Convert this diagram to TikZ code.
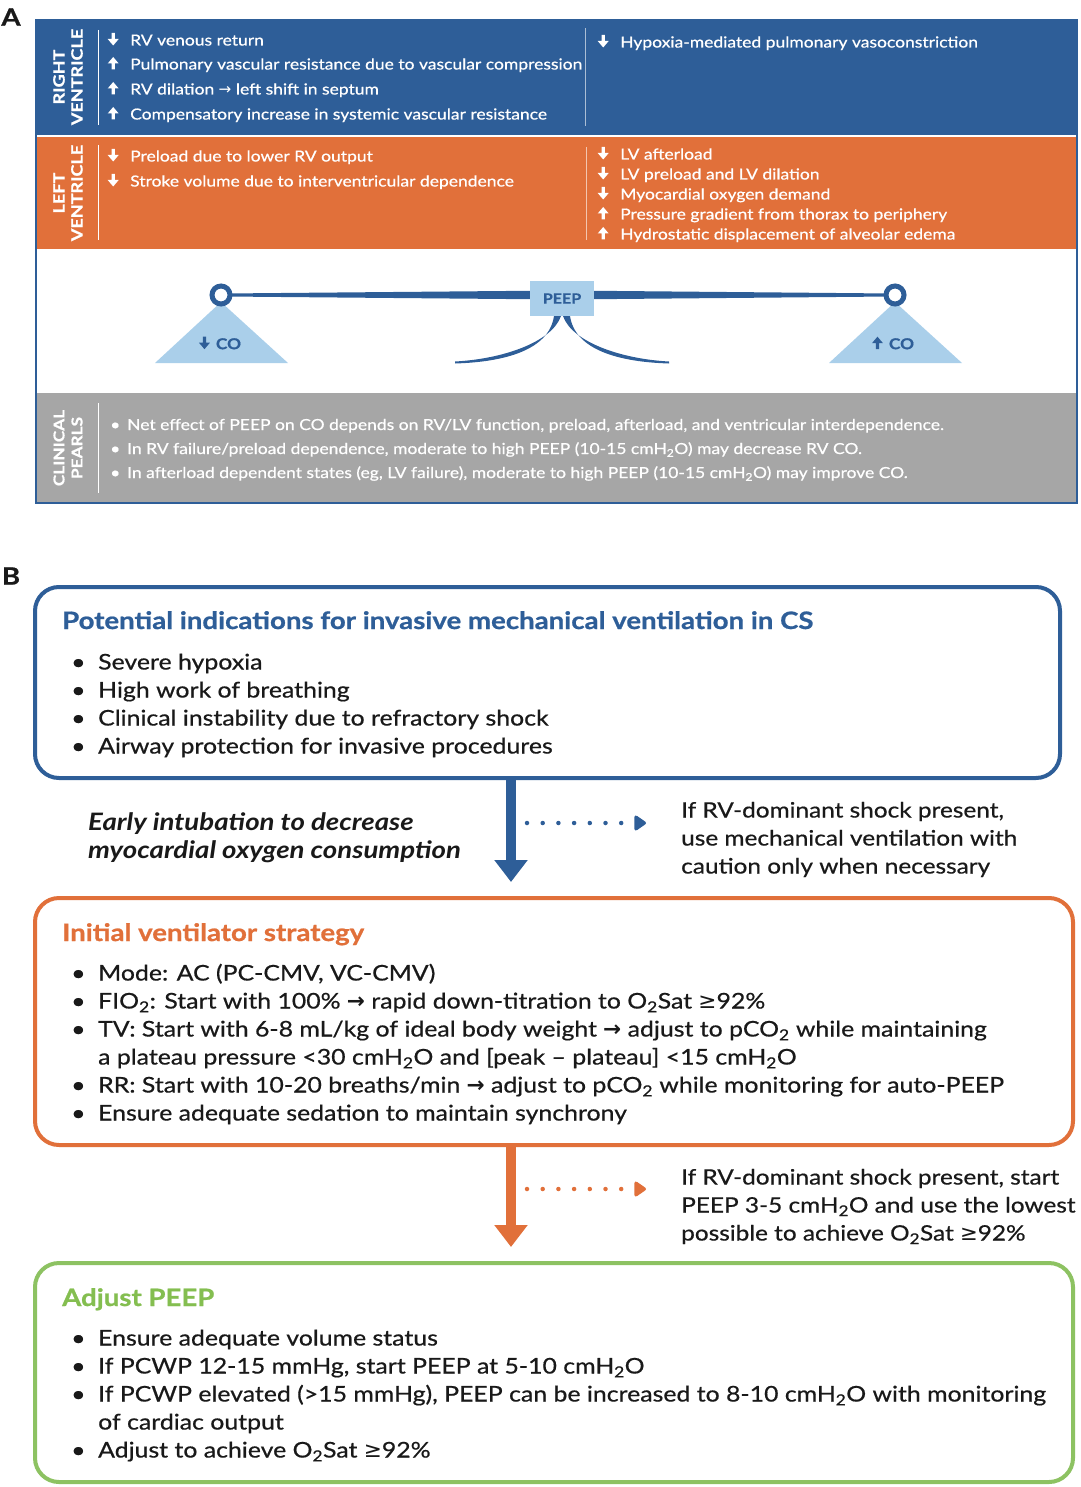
\documentclass[tikz,border=0pt]{standalone}
\usepackage{fontspec}
\setmainfont{Lato}[FakeStretch=1.15, UprightFeatures={FakeBold=0.6}, BoldFeatures={FakeBold=0.8}]
\newfontfamily\symf{DejaVu Sans}
\usetikzlibrary{arrows.meta}
\definecolor{dblue}{RGB}{46,94,152}
\definecolor{orng}{RGB}{225,112,58}
\definecolor{lblue}{RGB}{170,207,234}
\definecolor{gry}{RGB}{166,166,166}
\definecolor{grn}{RGB}{141,194,98}
\definecolor{grnt}{RGB}{132,190,80}
\definecolor{txt}{RGB}{25,25,25}
\newcommand\dnA{\tikz[x=1pt,y=1pt,baseline=0pt]{\fill (-1.7,12.5) rectangle (1.7,6.5) (-5.5,6.5) -- (5.5,6.5) -- (0,0) -- cycle;}}
\newcommand\upA{\tikz[x=1pt,y=1pt,baseline=0pt]{\fill (-1.7,0) rectangle (1.7,6) (-5.5,6) -- (5.5,6) -- (0,12.5) -- cycle;}}
\newcommand\rarr{{\symf\bfseries →}}
\newcommand\geqs{{\symf ≥}}
\newcommand\sbt[1]{\textsubscript{#1}}
\begin{document}
\begin{tikzpicture}[x=1pt,y=-1pt,
  tA/.style={anchor=west, text=white, font=\fontsize{15.2}{18}\selectfont, inner sep=0pt, text height=12pt, text depth=4pt, yshift=-2.5pt},
  tG/.style={anchor=west, text=white, font=\fontsize{15.2}{18}\selectfont, inner sep=0pt, text height=12pt, text depth=4pt, yshift=-1pt},
  side/.style={rotate=90, text=white, align=center, font=\fontsize{15.7}{18}\selectfont\bfseries, inner sep=0pt},
  sep/.style={white, line width=1pt},
  bl/.style={anchor=west, text=txt, font=\fontsize{21.6}{26}\selectfont, inner sep=0pt, text height=16pt, text depth=5pt, yshift=-3pt},
  ttl/.style={anchor=west, font=\fontsize{24}{28}\selectfont\bfseries, inner sep=0pt, text height=17pt, text depth=5pt, yshift=-2pt},
  rt/.style={anchor=west, text=txt, font=\fontsize{21.2}{26}\selectfont, inner sep=0pt, text height=16pt, text depth=5pt, yshift=-3pt},
  bbox/.style={rounded corners=24pt, line width=4pt, fill=white, inner sep=0pt},
  bigarrow/.style={line width=10pt, -{Triangle[width=32pt,length=22pt]}},
  dotarrow/.style={line width=4.5pt, line cap=round, dash pattern=on 0pt off 15.7pt, -{Triangle[width=17pt,length=13pt,round=false]}},
]
\useasboundingbox (0,0) rectangle (1080,1487);
% ---------------- Panel A ----------------
\node[anchor=center, font=\fontsize{24}{28}\selectfont\bfseries, text=txt, inner sep=0pt] (labA) at (11,17) {A};
\fill[dblue] (36,20) rectangle (1077,135);
\fill[orng] (36,137) rectangle (1077,249);
\fill[gry] (36,393) rectangle (1077,503);
\draw[dblue, line width=2pt] (36,20) rectangle (1077,503);

% Right ventricle
\node[side] (rv) at (68,77) {RIGHT\\VENTRICLE};
\draw[sep] (98,30) -- (98,125);
\node[tA] (rv1) at (106,39) {\makebox[24pt][l]{\hspace{1.5pt}\dnA}RV venous return};
\node[tA] (rv2) at (106,63) {\makebox[24pt][l]{\hspace{1.5pt}\upA}Pulmonary vascular resistance due to vascular compression};
\node[tA] (rv3) at (106,88) {\makebox[24pt][l]{\hspace{1.5pt}\upA}RV dilation {\symf →} left shift in septum};
\node[tA] (rv4) at (106,113) {\makebox[24pt][l]{\hspace{1.5pt}\upA}Compensatory increase in systemic vascular resistance};
\draw[white, opacity=.6, line width=1pt] (585,28) -- (585,126);
\node[tA] (rv5) at (596,41) {\makebox[24pt][l]{\hspace{1.5pt}\dnA}Hypoxia-mediated pulmonary vasoconstriction};

% Left ventricle
\node[side] (lv) at (68,193) {LEFT\\VENTRICLE};
\draw[sep] (98,145) -- (98,240);
\node[tA] (lv1) at (106,155) {\makebox[24pt][l]{\hspace{1.5pt}\dnA}Preload due to lower RV output};
\node[tA] (lv2) at (106,180) {\makebox[24pt][l]{\hspace{1.5pt}\dnA}Stroke volume due to interventricular dependence};
\draw[white, opacity=.6, line width=1pt] (586,147) -- (586,240);
\node[tA] (lv3) at (596,153) {\makebox[24pt][l]{\hspace{1.5pt}\dnA}LV afterload};
\node[tA] (lv4) at (596,173) {\makebox[24pt][l]{\hspace{1.5pt}\dnA}LV preload and LV dilation};
\node[tA] (lv5) at (596,193) {\makebox[24pt][l]{\hspace{1.5pt}\dnA}Myocardial oxygen demand};
\node[tA] (lv6) at (596,213) {\makebox[24pt][l]{\hspace{1.5pt}\upA}Pressure gradient from thorax to periphery};
\node[tA] (lv7) at (596,233) {\makebox[24pt][l]{\hspace{1.5pt}\upA}Hydrostatic displacement of alveolar edema};

% Balance
\fill[lblue] (221,302) -- (288,363) -- (155,363) -- cycle;
\fill[lblue] (895,302) -- (962,363) -- (829,363) -- cycle;
\fill[dblue] (225,293.5) -- (562,290.5) -- (891,293.5) -- (891,296.5) -- (562,299.5) -- (225,296.5) -- cycle;
\fill[dblue] (554,316) .. controls (549,350) and (505,362) .. (455,363.5) -- (455,361.5) .. controls (503,359) and (552,342) .. (561,316) -- cycle;
\fill[dblue] (570,316) .. controls (575,350) and (619,362) .. (669,363.5) -- (669,361.5) .. controls (621,359) and (572,342) .. (563,316) -- cycle;
\node[fill=lblue, minimum width=64pt, minimum height=35pt, inner sep=0pt, text=dblue, font=\fontsize{14}{16}\selectfont\bfseries] (peep) at (562,298.5) {PEEP};
\draw[dblue, line width=5pt, fill=white] (221,295) circle (9);
\draw[dblue, line width=5pt, fill=white] (895,295) circle (9);
\node[text=dblue, font=\fontsize{15}{18}\selectfont\bfseries, inner sep=0pt] (coL) at (220,343) {\dnA\hspace{6pt}CO};
\node[text=dblue, font=\fontsize{15}{18}\selectfont\bfseries, inner sep=0pt] (coR) at (893,343) {\upA\hspace{6pt}CO};

% Clinical pearls
\node[side, font=\fontsize{15}{18}\selectfont\bfseries] (cp) at (68,448) {CLINICAL\\PEARLS};
\draw[sep] (98,403) -- (98,493);
\node[tG] (cp1) at (110,425) {\makebox[17pt][l]{•}Net effect of PEEP on CO depends on RV/LV function, preload, afterload, and ventricular interdependence.};
\node[tG] (cp2) at (110,449) {\makebox[17pt][l]{•}In RV failure/preload dependence, moderate to high PEEP (10-15 cmH\sbt{2}O) may decrease RV CO.};
\node[tG] (cp3) at (110,473) {\makebox[17pt][l]{•}In afterload dependent states (eg, LV failure), moderate to high PEEP (10-15 cmH\sbt{2}O) may improve CO.};

% ---------------- Panel B ----------------
\node[anchor=center, font=\fontsize{24}{28}\selectfont\bfseries, text=txt, inner sep=0pt] (labB) at (11,576) {B};

\node[bbox, draw=dblue, minimum width=1025pt, minimum height=191pt] (b1) at (547.5,682.5) {};
\node[ttl, text=dblue] (t1) at (62,621) {Potential indications for invasive mechanical ventilation in CS};
\node[bl] (b1a) at (71,661) {\makebox[27pt][l]{•}Severe hypoxia};
\node[bl] (b1b) at (71,689) {\makebox[27pt][l]{•}High work of breathing};
\node[bl] (b1c) at (71,717) {\makebox[27pt][l]{•}Clinical instability due to refractory shock};
\node[bl] (b1d) at (71,745) {\makebox[27pt][l]{•}Airway protection for invasive procedures};

\node[bbox, draw=orng, minimum width=1038pt, minimum height=247pt] (b2) at (554,1021.5) {};
\node[ttl, text=orng] (t2) at (62,933) {Initial ventilator strategy};
\node[bl] (b2a) at (71,972) {\makebox[27pt][l]{•}Mode: AC (PC-CMV, VC-CMV)};
\node[bl] (b2b) at (71,1000) {\makebox[27pt][l]{•}FIO\sbt{2}: Start with 100\% \rarr{} rapid down-titration to O\sbt{2}Sat \geqs92\%};
\node[bl] (b2c) at (71,1028) {\makebox[27pt][l]{•}TV: Start with 6-8 mL/kg of ideal body weight \rarr{} adjust to pCO\sbt{2} while maintaining};
\node[bl] (b2d) at (98,1056) {a plateau pressure <30 cmH\sbt{2}O and [peak – plateau] <15 cmH\sbt{2}O};
\node[bl] (b2e) at (71,1084) {\makebox[27pt][l]{•}RR: Start with 10-20 breaths/min \rarr{} adjust to pCO\sbt{2} while monitoring for auto-PEEP};
\node[bl] (b2f) at (71,1112) {\makebox[27pt][l]{•}Ensure adequate sedation to maintain synchrony};

\node[bbox, draw=grn, minimum width=1038pt, minimum height=219pt] (b3) at (554,1372.5) {};
\node[ttl, text=grnt] (t3) at (62,1298) {Adjust PEEP};
\node[bl] (b3a) at (71,1337) {\makebox[27pt][l]{•}Ensure adequate volume status};
\node[bl] (b3b) at (71,1365) {\makebox[27pt][l]{•}If PCWP 12-15 mmHg, start PEEP at 5-10 cmH\sbt{2}O};
\node[bl] (b3c) at (71,1393) {\makebox[27pt][l]{•}If PCWP elevated (>15 mmHg), PEEP can be increased to 8-10 cmH\sbt{2}O with monitoring};
\node[bl] (b3d) at (98,1421) {of cardiac output};
\node[bl] (b3e) at (71,1449) {\makebox[27pt][l]{•}Adjust to achieve O\sbt{2}Sat \geqs92\%};

% arrows and side notes
\coordinate (ax) at (511,0);
\draw[bigarrow, dblue, shorten >=14pt] (b1.south -| ax) -- (b2.north -| ax);
\draw[bigarrow, orng, shorten >=14pt] (b2.south -| ax) -- (b3.north -| ax);

\node[anchor=west, text=txt, font=\fontsize{24}{28}\selectfont\bfseries\itshape, align=left, inner sep=0pt, yshift=-2pt] (ei) at (88,836) {Early intubation to decrease\\myocardial oxygen consumption};

\node[rt] (r1a) at (681,809) {If RV-dominant shock present,};
\node[rt] (r1b) at (681,837) {use mechanical ventilation with};
\node[rt] (r1c) at (681,865) {caution only when necessary};
\coordinate (d1) at (527,823);
\coordinate (d1e) at (646,823);
\draw[dotarrow, dblue] (d1) -- (d1e);

\node[rt] (r2a) at (681,1176) {If RV-dominant shock present, start};
\node[rt] (r2b) at (681,1204) {PEEP 3-5 cmH\sbt{2}O and use the lowest};
\node[rt] (r2c) at (681,1232) {possible to achieve O\sbt{2}Sat \geqs92\%};
\coordinate (d2) at (527,1189);
\coordinate (d2e) at (646,1189);
\draw[dotarrow, orng] (d2) -- (d2e);
\end{tikzpicture}
\end{document}
